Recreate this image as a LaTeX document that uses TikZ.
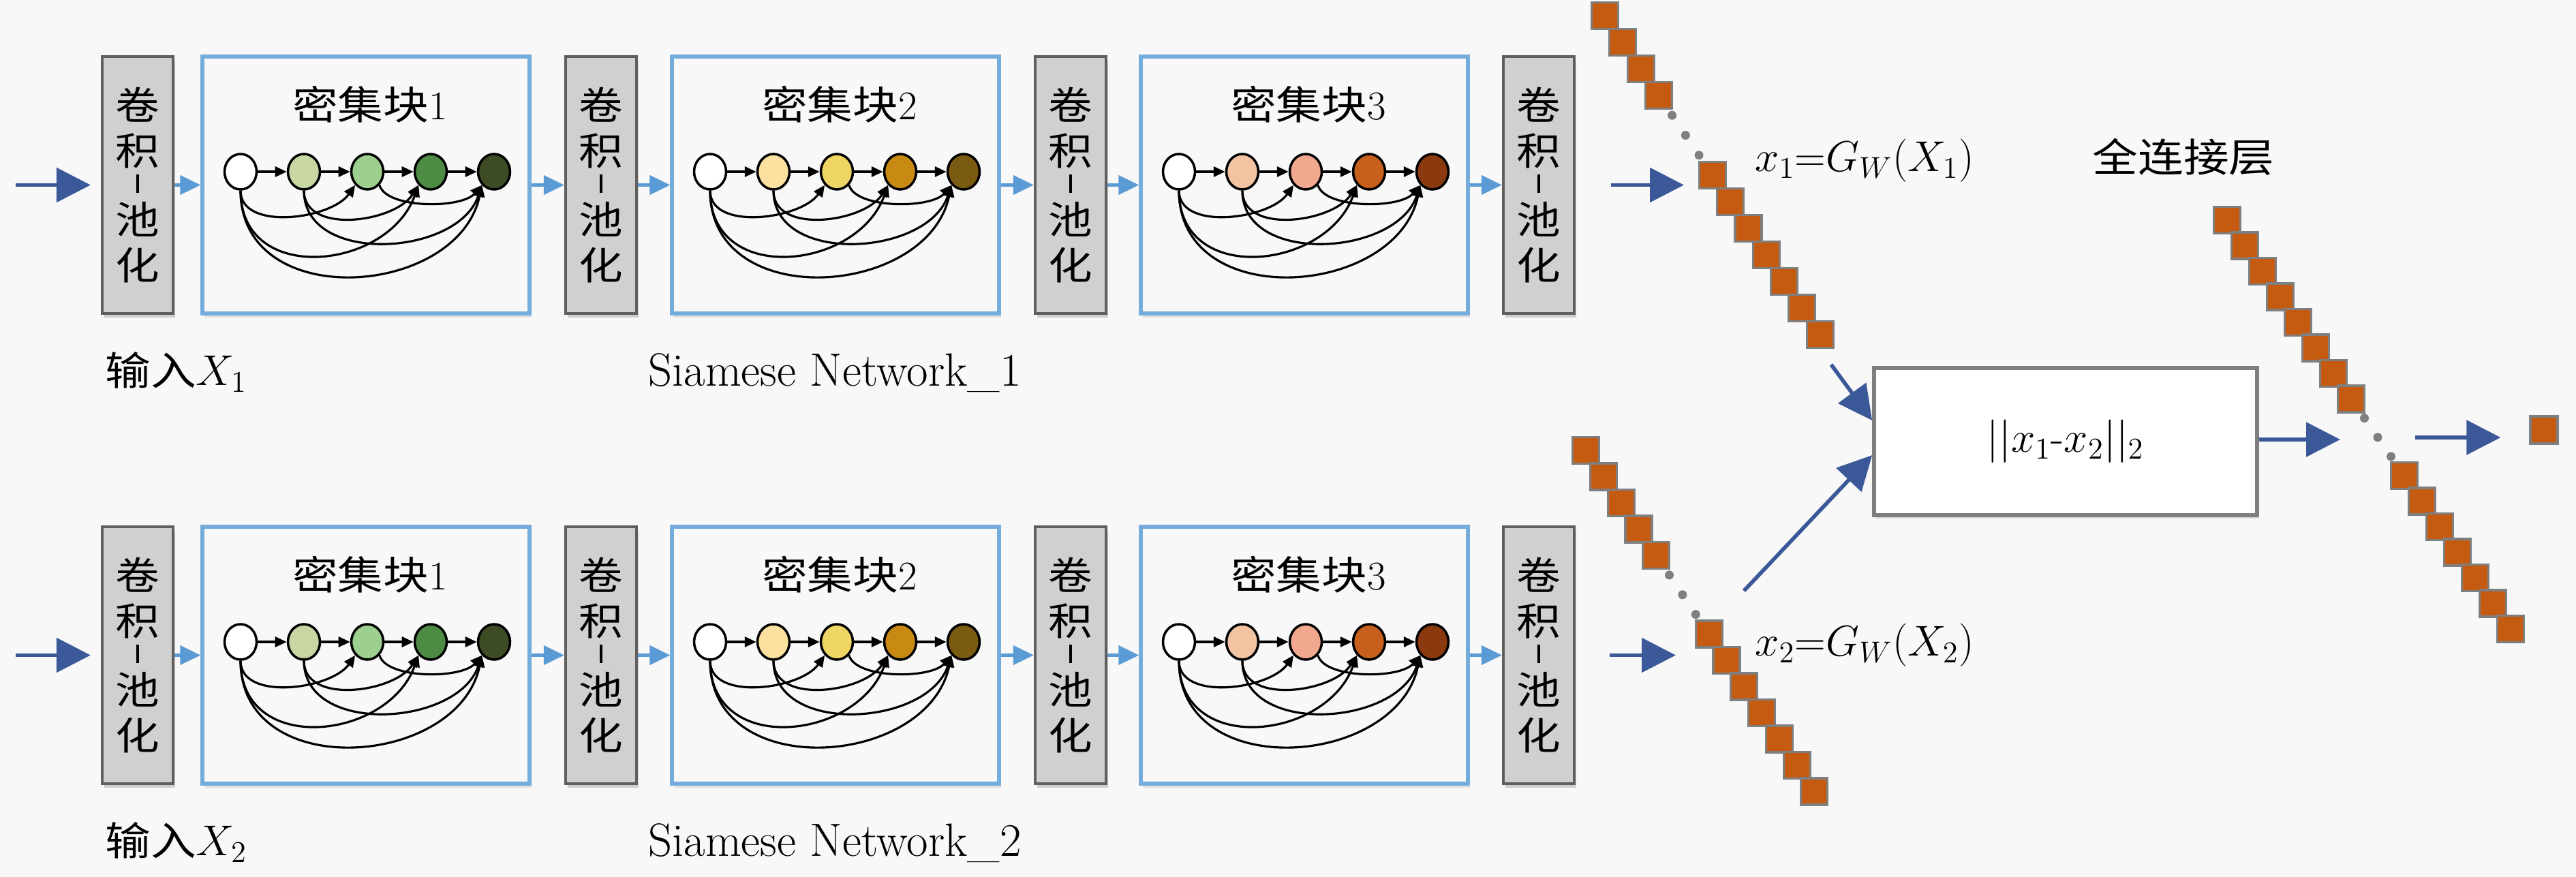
\documentclass[tikz,border=0pt]{standalone}
\usepackage{fix-cm}
\usepackage{fontspec}
\usepackage{graphicx}
\usepackage{tikz}
\usetikzlibrary{shapes.geometric, arrows.meta, shadows}
\newfontfamily\cjk{Noto Sans CJK SC}[FakeStretch=1.15]
\newcommand{\zh}[1]{{\cjk\fontsize{16.5}{20}\selectfont #1}}
\definecolor{bggray}{HTML}{F8F8F8}
\definecolor{convfill}{HTML}{D0D0D0}
\definecolor{convedge}{HTML}{5F5F5F}
\definecolor{denseedge}{HTML}{74ACDB}
\definecolor{flowblue}{HTML}{3B5998}
\definecolor{linkblue}{HTML}{5B9BD5}
\definecolor{unitfill}{HTML}{C55A11}
\definecolor{unitedge}{HTML}{7F7F7F}
% dense block cell colours
\definecolor{d1c0}{HTML}{FFFFFF}
\definecolor{d1c1}{HTML}{C7D6A3}
\definecolor{d1c2}{HTML}{9DCF8E}
\definecolor{d1c3}{HTML}{4E8B45}
\definecolor{d1c4}{HTML}{3D4C24}
\definecolor{d2c0}{HTML}{FFFFFF}
\definecolor{d2c1}{HTML}{FBE0A0}
\definecolor{d2c2}{HTML}{EFD564}
\definecolor{d2c3}{HTML}{C98A14}
\definecolor{d2c4}{HTML}{7B5A12}
\definecolor{d3c0}{HTML}{FFFFFF}
\definecolor{d3c1}{HTML}{F2C4A2}
\definecolor{d3c2}{HTML}{F2A88E}
\definecolor{d3c3}{HTML}{C6601C}
\definecolor{d3c4}{HTML}{8A3A0E}

\newcommand{\convtext}{卷\\积\\[-4.8pt]\rule[0.09cm]{1pt}{0.27cm}\\[-4.5pt]池\\化}

\newcommand{\denseblock}[4]{%
  % #1 name, (#2,#3) centre, #4 block number
  \node[densebox] (#1) at (#2,#3) {};
  \node[blocktitle] (#1t) at ({#2+0.06},{#3+1.185}) {\zh{密集块}#4};
  \foreach \k in {0,...,4}
    \node[cell, fill=d#4c\k] (#1n\k) at ({#2-1.84+0.93*\k},{#3+0.195}) {};
  \foreach \a/\b in {0/1,1/2,2/3,3/4}
    \draw[denselink] (#1n\a) -- (#1n\b);
  \draw[denselink] (#1n0.south) .. controls +(0,-0.6) and +(-0.35,-0.5) .. (#1n2.south west);
  \draw[denselink] (#1n0.south) .. controls +(0,-1.4) and +(-0.45,-1.25) .. (#1n3.south west);
  \draw[denselink] (#1n0.south) .. controls +(0,-1.8) and +(-0.35,-1.65) .. (#1n4.south west);
  \draw[denselink] (#1n1.south) .. controls +(0,-0.65) and +(-0.35,-0.55) .. (#1n3.south west);
  \draw[denselink] (#1n1.south) .. controls +(0,-1.1) and +(-0.35,-1.05) .. (#1n4.south west);
  \draw[denselink] (#1n2.south east) .. controls +(0.1,-0.35) and +(-0.3,-0.35) .. (#1n4.south west);
}

\newcommand{\netrow}[2]{%
  % #1 row tag, #2 row centre y
  \node[convbox] (#1c1) at (2.02,#2) {\convtext};
  \denseblock{#1d1}{5.37}{#2}{1}
  \node[convbox] (#1c2) at (8.82,#2) {\convtext};
  \denseblock{#1d2}{12.26}{#2}{2}
  \node[convbox] (#1c3) at (15.71,#2) {\convtext};
  \denseblock{#1d3}{19.14}{#2}{3}
  \node[convbox] (#1c4) at (22.58,#2) {\convtext};
  \draw[link] (#1c1) -- (#1d1);
  \draw[link] (#1d1) -- (#1c2);
  \draw[link] (#1c2) -- (#1d2);
  \draw[link] (#1d2) -- (#1c3);
  \draw[link] (#1c3) -- (#1d3);
  \draw[link] (#1d3) -- (#1c4);
}

\newcommand{\featvec}[8]{%
  % #1 name, (#2,#3) first unit, (#4,#5) step, #6 last upper, #7..#8 lower units
  \foreach \q in {0,...,#6}
    \node[unit] (#1s\q) at ({#2+#4*\q},{#3-#5*\q}) {};
  \foreach \k in {1,2,3}
    \node[vecdot] (#1g\k) at ({#2+#4*(#6+0.75*\k)},{#3-#5*(#6+0.75*\k)}) {};
  \foreach \q in {#7,...,#8}
    \node[unit] (#1s\q) at ({#2+#4*\q},{#3-#5*\q}) {};
}

\begin{document}
\begin{tikzpicture}[
  convbox/.style={
    rectangle,
    draw=convedge,
    line width=1.2pt,
    fill=convfill,
    minimum width=1.04cm,
    minimum height=3.77cm,
    inner sep=0pt,
    align=center,
    font=\cjk\fontsize{16}{19}\selectfont,
    drop shadow={shadow xshift=0.03cm, shadow yshift=-0.06cm, opacity=0.35}
  },
  densebox/.style={
    rectangle,
    draw=denseedge,
    line width=1.5pt,
    fill=bggray,
    minimum width=4.8cm,
    minimum height=3.77cm,
    drop shadow={shadow xshift=0.03cm, shadow yshift=-0.06cm, opacity=0.2}
  },
  blocktitle/.style={font=\fontsize{17}{20}\selectfont},
  cell/.style={
    ellipse,
    draw=black,
    line width=1pt,
    minimum width=0.47cm,
    minimum height=0.52cm,
    inner sep=0pt
  },
  denselink/.style={black, line width=0.9pt, -{Triangle[length=0.17cm, width=0.15cm]}},
  link/.style={linkblue, line width=1.2pt, -{Triangle[length=0.3cm, width=0.28cm]}},
  flow/.style={flowblue, line width=1.6pt, -{Triangle[length=0.5cm, width=0.5cm]}},
  unit/.style={
    rectangle,
    draw=unitedge,
    line width=0.9pt,
    fill=unitfill,
    minimum size=0.39cm,
    inner sep=0pt
  },
  vecdot/.style={circle, fill=unitedge, minimum size=0.13cm, inner sep=0pt},
  captext/.style={font=\fontsize{18}{20}\selectfont},
  distbox/.style={
    rectangle,
    draw=unitedge,
    line width=1.6pt,
    fill=white,
    minimum width=5.62cm,
    minimum height=2.16cm,
    font=\fontsize{18}{20}\selectfont,
    drop shadow={shadow xshift=0.02cm, shadow yshift=-0.05cm, opacity=0.25}
  }
]
  \useasboundingbox (0,0) rectangle (37.8,-12.87);
  \fill[bggray] (0,0) rectangle (37.8,-12.87);

  % Siamese rows
  \netrow{a}{-2.715}
  \netrow{b}{-9.615}

  % Inputs
  \coordinate (ina) at (0.23,-2.715);
  \coordinate (inb) at (0.23,-9.615);
  \draw[flow, shorten >=0.15cm] (ina) -- (ac1);
  \draw[flow, shorten >=0.15cm] (inb) -- (bc1);

  \node[captext, anchor=west] (inalab) at (1.42,-5.46) {\zh{输入}$X_1$};
  \node[captext, anchor=west] (inblab) at (1.42,-12.36) {\zh{输入}$X_2$};
  \node[captext, font=\fontsize{19.5}{21}\selectfont] (snet1) at (12.25,-5.47) {Siamese Network\_1};
  \node[captext, font=\fontsize{19.5}{21}\selectfont] (snet2) at (12.25,-12.37) {Siamese Network\_2};

  % Feature vectors
  \featvec{xa}{23.55}{-0.23}{0.263}{0.39}{3}{6}{12}
  \featvec{xb}{23.27}{-6.61}{0.258}{0.385}{4}{7}{13}
  \featvec{fc}{32.68}{-3.23}{0.26}{0.375}{7}{10}{16}

  \coordinate (xain) at (24.71,-2.715);
  \coordinate (xbin) at (24.59,-9.615);
  \draw[flow, shorten <=0.52cm] (ac4) -- (xain);
  \draw[flow, shorten <=0.5cm] (bc4) -- (xbin);

  \node[captext] (xalab) at (27.36,-2.36) {$x_1{=}G_W(X_1)$};
  \node[captext] (xblab) at (27.36,-9.47) {$x_2{=}G_W(X_2)$};

  % Distance and fully connected layer
  \node[distbox] (dist) at (30.31,-6.48) {$||x_1\mbox{-}x_2||_2$};
  \node[captext] (fclab) at (32.04,-2.30) {\zh{全连接层}};
  \node[unit, minimum size=0.4cm] (out) at (37.33,-6.31) {};

  \coordinate (xaout) at (26.87,-5.35);
  \coordinate (xbout) at (25.59,-8.67);
  \coordinate (fcin) at (34.34,-6.45);
  \coordinate (fcout) at (35.44,-6.42);
  \draw[flow] (xaout) -- ([yshift=0.31cm]dist.west);
  \draw[flow] (xbout) -- ([yshift=-0.2cm]dist.west);
  \draw[flow] (dist.east |- fcin) -- (fcin);
  \draw[flow, shorten >=0.42cm] (fcout) -- (out.west |- fcout);
\end{tikzpicture}
\end{document}
